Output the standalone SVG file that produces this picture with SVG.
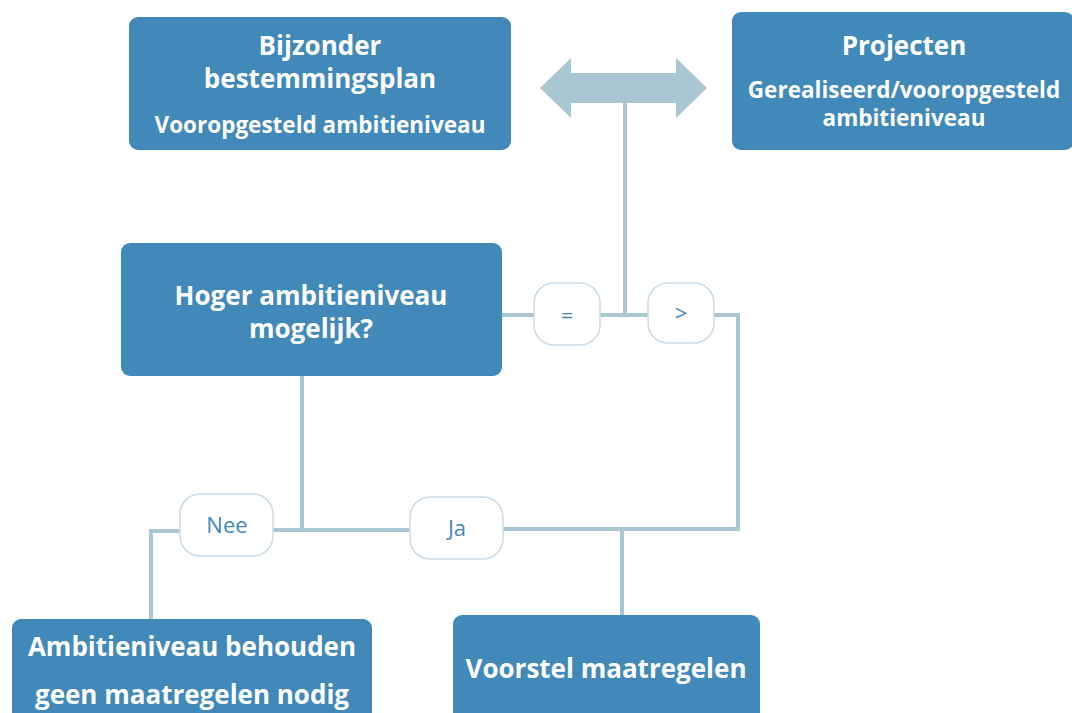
<svg xmlns="http://www.w3.org/2000/svg" width="1072" height="713" viewBox="0 0 1072 713">
<style>
.box{fill:#4189b9;}
.t{font-family:"Open Sans","Liberation Sans",sans-serif;font-weight:700;fill:#ffffff;text-anchor:middle;}
.big{font-size:26px;}
.sub{font-size:22.5px;}
.ln{fill:none;stroke:#a9c7d3;stroke-width:4;}
.pill{fill:#ffffff;stroke:#c8dbea;stroke-width:1.5;}
.pl{font-family:"Open Sans","Liberation Sans",sans-serif;font-size:22px;fill:#3f88ba;text-anchor:middle;}
</style>
<g id="connectors">
<polygon points="540,88 571,58 571,73 676,73 676,58 707,88 676,118 676,103 571,103 571,118" fill="#a9c7d3"/>
<path class="ln" d="M625,103 V315"/>
<path class="ln" d="M502,315 H738 V529"/>
<path class="ln" d="M302,376 V530"/>
<path class="ln" d="M272,530 H410"/>
<path class="ln" d="M502,529 H740"/>
<path class="ln" d="M180,531 H151 V620"/>
<path class="ln" d="M622,529 V616"/>
</g>
<g id="bijzonder">
<rect class="box" x="129" y="17" width="382" height="133" rx="9"/>
<text class="t big" x="320" y="55">Bijzonder</text>
<text class="t big" x="320" y="88">bestemmingsplan</text>
<text class="t sub" x="320" y="133">Vooropgesteld ambitieniveau</text>
</g>
<g id="projecten">
<rect class="box" x="732" y="12" width="342" height="138" rx="9"/>
<text class="t big" x="904" y="55">Projecten</text>
<text class="t sub" x="904" y="98">Gerealiseerd/vooropgesteld</text>
<text class="t sub" x="904" y="126">ambitieniveau</text>
</g>
<g id="hoger">
<rect class="box" x="121" y="243" width="381" height="133" rx="9"/>
<text class="t big" x="311" y="305">Hoger ambitieniveau</text>
<text class="t big" x="311" y="338">mogelijk?</text>
</g>
<g id="pill-eq">
<rect class="pill" x="534" y="283" width="66" height="62" rx="20"/>
<text class="pl" x="567" y="323">=</text>
</g>
<g id="pill-gt">
<rect class="pill" x="648" y="283" width="66" height="60" rx="20"/>
<text class="pl" x="681" y="321">&gt;</text>
</g>
<g id="pill-nee">
<rect class="pill" x="180" y="494" width="93" height="62" rx="20"/>
<text class="pl" x="227" y="533">Nee</text>
</g>
<g id="pill-ja">
<rect class="pill" x="410" y="497" width="93" height="62" rx="20"/>
<text class="pl" x="457" y="536">Ja</text>
</g>
<g id="behouden">
<rect class="box" x="12" y="619" width="360" height="110" rx="9"/>
<text class="t big" x="192" y="656">Ambitieniveau behouden</text>
<text class="t big" x="192" y="704">geen maatregelen nodig</text>
</g>
<g id="voorstel">
<rect class="box" x="453" y="615" width="307" height="110" rx="9"/>
<text class="t big" x="606" y="678">Voorstel maatregelen</text>
</g>
</svg>
